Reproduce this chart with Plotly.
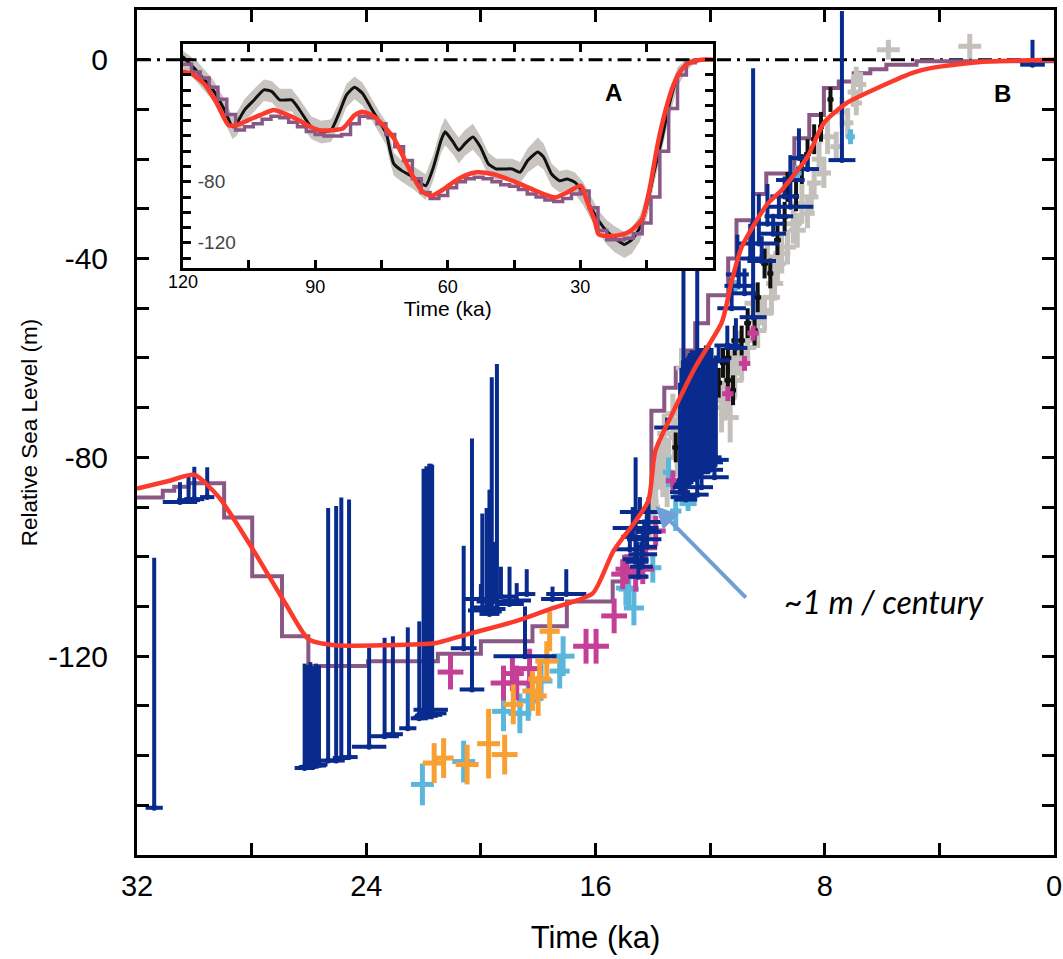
import plotly.graph_objects as go

# ---------------- Panel B (main) ----------------
red_age = [32.0, 30.86, 30.0, 29.13, 27.99, 26.81, 26.01, 25.08, 23.35, 21.62, 20.48, 18.75, 17.47, 16.09,
           15.39, 14.6, 14.15, 13.91, 13.32, 12.52, 11.59, 11.24, 10.9, 10.0, 9.5, 8.61, 8.03, 7.23, 6.05,
           4.91, 4.22, 2.49, 0.0]
red_rsl = [-86.3, -84.7, -83.5, -88.1, -98.2, -109.5, -116.6, -117.8, -117.8, -117.4, -115.6, -112.9, -110.3,
           -107.3, -99.0, -92.8, -88.7, -78.7, -71.2, -61.9, -52.8, -44.4, -37.7, -29.0, -26.2, -19.6, -12.7,
           -8.7, -5.4, -2.6, -1.6, -0.4, 0.0]

purple_age = [32.0, 31.1, 30.7, 30.2, 28.96, 27.98, 26.94, 26.02, 23.94, 21.5, 20.0, 18.2, 17.0, 15.4, 15.0,
              14.6, 14.05, 13.6, 13.2, 12.8, 12.52, 12.07, 11.37, 11.08, 10.5, 10.04, 9.06, 8.54, 8.03, 7.51,
              6.99, 6.41, 5.85, 4.8, 0.0]
purple_rsl = [-88.1, -86.7, -85.9, -85.2, -92.1, -103.9, -116.0, -122.0, -121.0, -119.5, -117.0, -114.0,
              -109.0, -105.0, -100.0, -94.5, -70.6, -66.0, -62.0, -58.5, -53.0, -47.4, -40.0, -32.3, -27.0,
              -22.9, -15.8, -11.1, -5.7, -4.4, -2.7, -1.9, -1.0, -0.3, 0.0]

zero_age = [32.0, 0.0]
zero_rsl = [0.0, 0.0]

# dark-blue limiting data: age, lower RSL, upward extent, age uncertainty
blue_age = [31.4, 30.5, 30.2, 30.0, 29.55,
            26.15, 26.05, 25.95, 25.85, 25.75, 25.65, 25.33, 25.05, 24.87, 24.6,
            23.9, 23.36, 23.07, 22.55, 22.15, 22.0, 21.9, 21.8, 21.7, 21.75,
            20.6, 20.31, 19.95, 19.8, 19.7, 19.62, 19.44, 19.55, 20.0, 19.3, 19.0, 18.75, 18.4, 18.46,
            17.02, 17.5,
            14.6, 14.8, 14.6, 14.4, 14.3, 14.5, 14.2, 14.45, 14.2, 14.7, 14.35, 14.15, 14.55,
            12.93, 12.45, 13.05, 12.95, 12.8, 12.7, 12.6, 12.5, 12.4, 12.3, 12.2, 12.1, 12.0, 11.9, 11.85,
            13.0, 12.88, 12.75, 12.65, 12.55, 12.35, 12.25, 12.15, 12.05, 11.95, 11.8, 12.85, 12.3,
            13.5, 11.4, 11.1, 11.05, 10.3, 10.0, 9.2, 9.2, 8.9, 10.5, 7.4, 0.75, 11.0, 10.6, 9.6, 11.7,
            10.8, 10.2, 9.8, 9.4, 8.6, 11.25]
blue_rsl = [-150.5, -89.0, -88.6, -88.4, -88.0,
            -142.5, -142.3, -142.2, -142.0, -142.0, -141.8, -141.0, -141.0, -140.5, -140.3,
            -138.2, -136.1, -135.7, -134.5, -132.5, -132.3, -132.0, -131.8, -131.5, -130.8,
            -118.4, -126.7, -110.8, -110.2, -111.5, -111.0, -110.5, -109.0, -108.5, -108.0, -109.5, -108.8,
            -107.5, -120.0,
            -107.5, -108.5,
            -94.2, -98.5, -100.5, -102.0, -96.5, -104.0, -98.0, -91.0, -93.0, -96.0, -99.5, -95.0, -101.0,
            -88.0, -87.5, -87.0, -85.5, -84.5, -84.0, -83.5, -83.0, -82.5, -82.3, -82.0, -81.5, -82.5, -80.0,
            -84.0,
            -86.0, -85.0, -84.5, -84.0, -83.5, -83.0, -82.5, -82.0, -81.5, -81.0, -80.5, -88.5, -86.0,
            -74.0, -57.5, -58.0, -43.2, -37.0, -33.0, -29.6, -24.2, -19.8, -51.8, -20.2, -1.0, -45.5, -40.0,
            -31.5, -60.5,
            -47.0, -40.5, -35.0, -27.5, -22.0, -50.0]
blue_up = [50.3, 4.0, 5.0, 6.5, 6.0,
           21.0, 20.5, 21.0, 20.0, 20.5, 20.0, 50.8, 51.2, 52.4, 51.8,
           19.9, 19.8, 19.7, 20.3, 19.5, 50.0, 50.2, 50.5, 50.0, 49.5,
           20.6, 50.5, 19.5, 20.0, 25.0, 47.1, 49.3, 12.0, 3.0, 6.0, 7.5, 3.5, 5.0, 10.0,
           5.0, 2.5,
           14.2, 4.0, 5.0, 5.0, 4.0, 3.0, 6.0, 3.0, 4.0, 6.0, 5.0, 7.0, 4.0,
           52.3, 51.5, 22.0, 25.0, 24.0, 25.0, 24.0, 24.0, 24.0, 24.0, 24.0, 23.0, 22.0, 20.0, 2.0,
           24.0, 25.0, 25.0, 25.5, 25.0, 25.0, 24.5, 24.5, 24.0, 23.0, 21.0, 18.0, 26.0,
           2.0, 4.0, 6.0, 8.0, 10.0, 8.0, 6.0, 5.0, 6.0, 50.1, 30.0, 5.0, 5.0, 7.0, 4.0, 3.0,
           5.0, 5.0, 4.0, 4.0, 3.0, 6.0]
blue_age_err = [0.3, 0.6, 0.4, 0.35, 0.25,
                0.35, 0.3, 0.3, 0.3, 0.35, 0.3, 0.3, 0.3, 0.3, 0.3,
                0.6, 0.5, 0.35, 0.3, 0.3, 0.35, 0.4, 0.45, 0.5, 0.6,
                0.45, 0.43, 0.5, 0.45, 0.35, 0.35, 0.3, 0.6, 0.6, 0.5, 0.5, 0.5, 0.3, 1.1,
                0.7, 0.4,
                0.8, 0.5, 0.45, 0.4, 0.6, 0.35, 0.35, 0.7, 0.5, 0.4, 0.5, 0.45, 0.4,
                0.45, 0.4, 0.35, 0.3, 0.35, 0.3, 0.35, 0.3, 0.35, 0.3, 0.4, 0.35, 0.45, 0.3, 0.5,
                0.3, 0.3, 0.35, 0.3, 0.3, 0.35, 0.3, 0.35, 0.3, 0.4, 0.45, 0.4, 0.4,
                0.45, 0.45, 0.4, 0.4, 0.7, 0.6, 0.8, 0.5, 0.3, 0.47, 0.47, 0.43, 0.5, 0.45, 0.5, 0.4,
                0.45, 0.5, 0.45, 0.5, 0.4, 0.5]

magenta_age = [21.06, 19.21, 18.75, 18.3, 18.9, 16.33, 15.98, 15.35, 15.05, 14.9, 14.6, 14.35, 14.25, 13.9,
               13.3, 11.38, 10.8, 10.5]
magenta_rsl = [-123.2, -125.4, -125.4, -122.5, -123.5, -118.0, -118.0, -111.9, -103.5, -102.5, -104.0,
               -102.5, -98.2, -94.8, -84.7, -67.2, -61.1, -55.0]
magenta_age_err = [0.45, 0.45, 0.45, 0.45, 0.4, 0.45, 0.45, 0.45, 0.4, 0.4, 0.4, 0.4, 0.4, 0.35, 0.25, 0.2,
                   0.2, 0.2]
magenta_rsl_err = [3.5, 3.5, 3.5, 4.0, 3.5, 3.5, 3.5, 3.5, 3.0, 3.0, 3.0, 3.0, 3.0, 3.0, 2.0, 1.5, 1.5, 1.5]

cyan_age = [22.04, 20.6, 19.21, 18.64, 18.35, 17.9, 17.13, 17.25, 14.94, 14.84, 14.66, 14.0, 13.45, 13.2,
            12.77, 11.14, 8.96, 7.1]
cyan_rsl = [-145.8, -141.2, -131.1, -131.5, -129.0, -125.0, -120.0, -123.0, -106.3, -106.5, -110.3, -102.2,
            -83.0, -90.8, -89.3, -45.8, -22.8, -15.5]
cyan_age_err = [0.4, 0.4, 0.4, 0.4, 0.4, 0.4, 0.4, 0.35, 0.35, 0.35, 0.35, 0.3, 0.2, 0.2, 0.3, 0.2, 0.15, 0.15]
cyan_rsl_err = [4.2, 4.2, 4.0, 4.0, 4.0, 4.0, 4.0, 3.5, 3.5, 3.5, 3.5, 3.0, 3.0, 4.0, 1.5, 1.5, 1.5, 1.5]

orange_age = [21.63, 21.3, 20.48, 19.73, 19.17, 18.87, 18.2, 18.0, 17.95, 17.7, 17.6]
orange_rsl = [-141.5, -140.5, -141.8, -137.6, -139.8, -129.7, -127.0, -128.0, -124.6, -121.0, -115.0]
orange_age_err = [0.4, 0.35, 0.4, 0.4, 0.45, 0.35, 0.35, 0.3, 0.4, 0.4, 0.35]
orange_rsl_err = [4.0, 4.0, 4.0, 7.0, 4.0, 4.0, 4.0, 4.0, 4.0, 4.0, 4.0]

grey_age = [5.78, 2.94, 6.9, 6.75, 6.9, 7.2, 7.6, 8.03, 8.37, 8.47, 8.6, 8.96, 9.3, 9.65, 9.75, 9.86, 10.1,
            10.34, 10.69, 10.9, 11.14, 11.38, 11.5, 12.0, 13.0, 13.3, 13.6, 13.7, 13.8, 13.9, 14.0, 13.5,
            13.15, 10.2, 10.7, 11.14, 10.0,
            7.0, 7.4, 7.9, 8.2, 8.8, 9.1, 9.5, 10.5, 11.0, 11.25, 11.6, 11.45, 11.3, 13.25, 13.45, 13.65,
            13.95, 14.1, 13.1]
grey_rsl = [2.0, 2.7, -3.4, -5.0, -8.7, -12.7, -17.5, -22.8, -24.8, -27.6, -30.9, -34.3, -37.7, -41.0, -45.0,
            -47.8, -51.0, -54.5, -57.9, -61.1, -64.5, -68.0, -68.6, -66.0, -62.0, -71.2, -75.2, -79.3, -82.0,
            -86.0, -89.0, -85.0, -80.0, -50.4, -56.5, -62.5, -39.7,
            -6.5, -10.5, -15.5, -20.0, -29.0, -33.0, -39.0, -49.0, -59.0, -63.0, -70.0, -66.0, -72.0, -76.0,
            -80.0, -84.0, -90.0, -92.0, -74.0]
grey_age_err = [0.4, 0.4, 0.15, 0.2, 0.2, 0.2, 0.2, 0.25, 0.25, 0.25, 0.25, 0.3, 0.3, 0.3, 0.3, 0.3, 0.3, 0.3,
                0.3, 0.3, 0.3, 0.3, 0.3, 0.25, 0.2, 0.25, 0.25, 0.25, 0.2, 0.2, 0.2, 0.2, 0.2, 0.3, 0.3, 0.3,
                0.3,
                0.2, 0.2, 0.25, 0.25, 0.3, 0.3, 0.3, 0.3, 0.3, 0.3, 0.25, 0.25, 0.3, 0.2, 0.2, 0.2, 0.2, 0.2,
                0.2]
grey_rsl_err = [2.0, 2.5, 2.0, 2.5, 2.5, 3.0, 3.0, 3.0, 3.0, 3.0, 3.0, 3.5, 3.5, 3.5, 3.5, 3.5, 3.5, 3.5, 3.5,
                3.5, 3.5, 3.5, 4.0, 4.0, 4.0, 4.0, 4.0, 4.0, 4.0, 4.0, 4.0, 5.0, 4.0, 3.0, 3.0, 3.0, 3.0,
                3.0, 3.0, 3.5, 3.5, 4.0, 4.0, 4.0, 4.0, 4.5, 4.5, 5.0, 4.5, 5.0, 4.0, 4.0, 4.0, 4.5, 4.5,
                4.0]

black_age = [7.8, 8.13, 8.37, 8.6, 9.3, 9.4, 9.65, 10.1, 10.34, 10.69, 11.14, 11.38, 10.45, 10.9, 11.38, 13.2,
             13.0, 11.7, 9.0, 8.8, 9.9, 11.55, 11.2]
black_rsl = [-8.0, -13.5, -16.0, -19.0, -25.6, -31.6, -36.3, -41.0, -47.8, -53.0, -56.5, -64.5, -54.5, -56.5,
             -60.0, -78.0, -72.0, -65.0, -27.5, -22.0, -43.0, -61.0, -66.5]
black_age_err = [0.1, 0.1, 0.1, 0.12, 0.12, 0.12, 0.12, 0.12, 0.12, 0.12, 0.12, 0.12, 0.12, 0.12, 0.12, 0.12,
                 0.12, 0.12, 0.1, 0.1, 0.1, 0.1, 0.1]
black_rsl_err = [2.5, 3.0, 3.0, 3.0, 3.0, 3.0, 3.0, 3.0, 3.0, 3.0, 3.0, 3.0, 3.0, 3.0, 3.0, 3.0, 3.0, 3.0,
                 3.0, 3.0, 3.0, 3.0, 3.0]

x_ticks_main = [32, 24, 16, 8, 0]
x_text_main = ["32", "24", "16", "8", "0"]
y_ticks_main = [0, -40, -80, -120]
y_text_main = ["0", "-40", "-80", "-120"]

# ---------------- Panel A (inset) ----------------
ins_black_age = [120, 116.7, 113.1, 110.5, 108.7, 107.8, 106.0, 103.8, 101.6, 99.8, 98.0, 95.3, 93.5, 90.9,
                 88.6, 86.4, 84.6, 82.9, 81.1, 79.3, 77.5, 75.7, 73.9, 73.05, 72.2, 70.4, 67.7, 65.0, 63.25,
                 61.5, 60.6, 58.8, 57.5, 56.1, 54.3, 52.6, 50.8, 49.0, 47.2, 45.4, 43.65, 41.9, 39.6, 38.3,
                 36.5, 34.7, 33.0, 31.2, 29.4, 27.6, 25.8, 24.05, 22.3, 20.0, 18.3, 16.5, 14.7, 13.4, 11.6,
                 9.8, 8.0, 6.2, 4.45, 2.67, 0]
ins_black_rsl = [2.2, -7.7, -19.8, -33.0, -44.0, -41.8, -33.0, -26.4, -19.8, -20.9, -26.4, -26.4, -33.0,
                 -44.0, -47.3, -46.2, -35.2, -23.1, -18.1, -22.0, -30.8, -39.6, -48.4, -59.4, -68.3, -72.7,
                 -77.1, -82.6, -70.5, -52.8, -47.3, -53.9, -59.4, -55.0, -50.6, -57.2, -68.3, -71.6, -71.6,
                 -71.6, -73.8, -66.1, -60.5, -63.9, -74.9, -79.3, -78.2, -80.4, -87.0, -96.9, -105.7, -112.3,
                 -116.7, -121.1, -117.8, -110.1, -92.5, -74.9, -52.8, -28.6, -11.0, -3.3, -0.7, 0.0, 0.0]
ins_band_upper = [6, -1, -13, -26, -37, -35, -26, -19, -13, -14, -19, -19, -26, -37, -40, -39, -28, -16, -11,
                  -15, -24, -33, -41, -52, -61, -66, -70, -75, -62, -44, -38, -46, -51, -46, -42, -50, -61,
                  -65, -65, -65, -67, -58, -51, -55, -68, -73, -72, -74, -80, -90, -99, -105, -109, -113,
                  -110, -102, -85, -67, -45, -21, -5, 0, 1, 1, 0.5]
ins_band_lower = [-5, -15, -27, -41, -52, -50, -41, -34, -27, -28, -34, -34, -41, -52, -55, -54, -43, -31,
                  -26, -30, -38, -47, -56, -67, -76, -80, -85, -92, -79, -61, -56, -62, -68, -63, -59, -65,
                  -76, -79, -79, -79, -81, -74, -69, -72, -83, -87, -86, -88, -95, -105, -114, -121, -126,
                  -130, -127, -119, -101, -83, -61, -37, -18, -8, -3, -1, -0.5]

ins_red_age = [120, 117.59, 114.92, 112.25, 109.58, 107.79, 105.12, 102.45, 99.33, 97.1, 94.43, 91.76, 89.09,
               86.41, 83.74, 81.07, 79.29, 76.61, 73.94, 72.16, 70.38, 68.15, 65.92, 63.7, 61.47, 58.79,
               56.12, 53.45, 49.89, 45.43, 40.98, 38.31, 35.63, 32.96, 29.84, 28.51, 26.73, 25.83, 23.16,
               20.49, 18.71, 16.04, 14.25, 12.47, 10.69, 8.91, 7.13, 5.35, 2.67, 0]
ins_red_rsl = [-7.7, -9.9, -16.5, -28.6, -42.9, -42.9, -39.6, -36.3, -33.0, -35.2, -38.5, -42.9, -46.2,
               -46.2, -45.1, -36.3, -34.1, -37.4, -45.1, -51.7, -61.7, -74.9, -85.9, -89.2, -85.9, -80.4,
               -76.0, -73.8, -74.9, -79.3, -84.8, -88.1, -90.3, -87.0, -82.6, -92.5, -105.7, -114.5, -115.6,
               -114.5, -112.3, -104.6, -83.7, -55.0, -33.0, -16.5, -6.6, -2.2, 0.0, 0.0]

ins_purple_age = [120, 118, 116, 114, 112, 110, 108, 106, 104, 102, 100, 98, 96, 94, 92, 90, 88, 86, 84, 82,
                  80, 78, 76, 74, 72, 70, 68, 66, 64, 62, 60, 58, 56, 54, 52, 50, 48, 46, 44, 42, 40, 38, 36,
                  34, 32, 30, 28, 26, 24, 22, 20, 18, 16, 14, 12, 10, 8, 6, 4, 0]
ins_purple_rsl = [-3, -8, -12, -18, -26, -36, -46, -44, -42, -39, -37, -38, -41, -44, -47, -49, -50, -50, -49,
                  -42, -37, -38, -42, -49, -57, -66, -78, -87, -91, -89, -84, -80, -78, -77, -78, -80, -82,
                  -83, -85, -88, -90, -92, -93, -91, -88, -86, -97, -112, -118, -118, -117, -114, -107, -90,
                  -60, -32, -10, -2, 0, 0]

ins_zero_age = [120, 0]
ins_zero_rsl = [0, 0]
x_ticks_inset = [120, 90, 60, 30]
y_ticks_inset = [-80, -120]
y_text_inset = ["-80", "-120"]

# ---------------- colours / styles ----------------
RED = "#fb3a2b"
PURPLE = "#8a5885"
NAVY = "#0a2b8e"
MAGENTA = "#c63f97"
CYAN = "#5bb6dc"
ORANGE = "#f8a033"
GREY = "#c4c1bc"
BLACK = "#111111"
FONT = "Liberation Sans, Arial, Helvetica, sans-serif"

fig = go.Figure()


def crosses(age, rsl, xe, ye, color, th):
    fig.add_trace(go.Scatter(
        x=age, y=rsl, mode="markers", marker=dict(size=0, color=color),
        error_x=dict(type="data", array=xe, width=0, thickness=th, color=color),
        error_y=dict(type="data", array=ye, width=0, thickness=th, color=color),
        xaxis="x", yaxis="y", showlegend=False, hoverinfo="skip"))


# main panel
fig.add_trace(go.Scatter(x=zero_age, y=zero_rsl, mode="lines",
                         line=dict(color="black", width=3, dash="14px,6px,3px,6px"),
                         xaxis="x", yaxis="y", showlegend=False, hoverinfo="skip"))
fig.add_trace(go.Scatter(x=purple_age, y=purple_rsl, mode="lines", line=dict(color=PURPLE, width=4, shape="hv"),
                         xaxis="x", yaxis="y", showlegend=False, hoverinfo="skip"))
crosses(grey_age, grey_rsl, grey_age_err, grey_rsl_err, GREY, 5)
crosses(black_age, black_rsl, black_age_err, black_rsl_err, BLACK, 4)
crosses(cyan_age, cyan_rsl, cyan_age_err, cyan_rsl_err, CYAN, 5)
crosses(magenta_age, magenta_rsl, magenta_age_err, magenta_rsl_err, MAGENTA, 5)
crosses(orange_age, orange_rsl, orange_age_err, orange_rsl_err, ORANGE, 5)
fig.add_trace(go.Scatter(
    x=blue_age, y=blue_rsl, mode="markers", marker=dict(size=0, color=NAVY),
    error_x=dict(type="data", array=blue_age_err, width=0, thickness=4, color=NAVY),
    error_y=dict(type="data", symmetric=False, array=blue_up, arrayminus=[0] * len(blue_up),
                 width=0, thickness=4, color=NAVY),
    xaxis="x", yaxis="y", showlegend=False, hoverinfo="skip"))
fig.add_trace(go.Scatter(x=red_age, y=red_rsl, mode="lines", line=dict(color=RED, width=4.5, shape="spline",
                                                                       smoothing=0.6),
                         xaxis="x", yaxis="y", showlegend=False, hoverinfo="skip"))

# inset panel
fig.add_trace(go.Scatter(x=ins_black_age, y=ins_band_lower, mode="lines", line=dict(width=0, color=GREY),
                         xaxis="x2", yaxis="y2", showlegend=False, hoverinfo="skip"))
fig.add_trace(go.Scatter(x=ins_black_age, y=ins_band_upper, mode="lines", line=dict(width=0, color=GREY),
                         fill="tonexty", fillcolor="#c8c5c0",
                         xaxis="x2", yaxis="y2", showlegend=False, hoverinfo="skip"))
fig.add_trace(go.Scatter(x=ins_zero_age, y=ins_zero_rsl, mode="lines",
                         line=dict(color="black", width=3, dash="14px,6px,3px,6px"),
                         xaxis="x2", yaxis="y2", showlegend=False, hoverinfo="skip"))
fig.add_trace(go.Scatter(x=ins_black_age, y=ins_black_rsl, mode="lines",
                         line=dict(color=BLACK, width=3, shape="spline", smoothing=0.5),
                         xaxis="x2", yaxis="y2", showlegend=False, hoverinfo="skip"))
fig.add_trace(go.Scatter(x=ins_purple_age, y=ins_purple_rsl, mode="lines",
                         line=dict(color=PURPLE, width=3.5, shape="hv"),
                         xaxis="x2", yaxis="y2", showlegend=False, hoverinfo="skip"))
fig.add_trace(go.Scatter(x=ins_red_age, y=ins_red_rsl, mode="lines",
                         line=dict(color=RED, width=4.5, shape="spline", smoothing=0.6),
                         xaxis="x2", yaxis="y2", showlegend=False, hoverinfo="skip"))

tick_common = dict(ticks="inside", tickcolor="black", showline=True, linecolor="black", showgrid=False,
                   zeroline=False, mirror="ticks")

fig.update_layout(
    width=1063, height=959,
    margin=dict(l=137, r=1, t=10, b=104),
    paper_bgcolor="white", plot_bgcolor="white",
    font=dict(family=FONT, color="black"),
    xaxis=dict(domain=[0, 1], anchor="y", range=[32, 0], tickvals=x_ticks_main, ticktext=x_text_main,
               ticklen=12, tickwidth=3, linewidth=3, tickfont=dict(size=29),
               ticklabelstandoff=3, ticklabeloverflow="allow",
               minor=dict(ticks="inside", dtick=4, tick0=0, ticklen=12, tickwidth=3, tickcolor="black"),
               title=dict(text="Time (ka)", font=dict(size=31), standoff=26), **tick_common),
    yaxis=dict(domain=[0, 1], anchor="x", range=[-160, 10], tickvals=y_ticks_main, ticktext=y_text_main,
               ticklen=12, tickwidth=3, linewidth=3, tickfont=dict(size=30),
               ticklabelstandoff=20,
               minor=dict(ticks="inside", dtick=10, tick0=0, ticklen=12, tickwidth=3, tickcolor="black"),
               title=dict(text="Relative Sea Level (m)", font=dict(size=22.5), standoff=5), **tick_common),
    xaxis2=dict(domain=[0.0497, 0.628], anchor="y2", range=[120, 0], tickvals=x_ticks_inset,
                ticklen=8, tickwidth=2.5, linewidth=3, tickfont=dict(size=18), ticklabeloverflow="allow",
                minor=dict(ticks="inside", dtick=15, tick0=0, ticklen=8, tickwidth=2.5, tickcolor="black"),
                title=dict(text="Time (ka)", font=dict(size=21), standoff=6), **tick_common),
    yaxis2=dict(domain=[0.6947, 0.9598], anchor="x2", range=[-136.5, 10.3], tickvals=y_ticks_inset,
                ticktext=y_text_inset, ticklabelstandoff=8,
                ticklen=8, tickwidth=2.5, linewidth=3, tickfont=dict(size=19), ticklabelposition="inside",
                minor=dict(ticks="inside", dtick=10, tick0=0, ticklen=8, tickwidth=2.5, tickcolor="black"),
                **tick_common),
    annotations=[
        # the 120 tick label of the inset (plotly hides it next to inside y labels)
        dict(x=120, y=0.6947, xref="x2", yref="paper", yshift=-2, text="120",
             showarrow=False, yanchor="top", font=dict(size=18, family=FONT)),
        dict(x=22.6, y=-21.8, xref="x2", yref="y2", text="<b>A</b>", showarrow=False,
             font=dict(size=24, family=FONT)),
        dict(x=1.8, y=-6.7, xref="x", yref="y", text="<b>B</b>", showarrow=False,
             font=dict(size=24, family=FONT)),
        dict(x=13.91, y=-89.8, xref="x", yref="y", text="", showarrow=True, ax=92, ay=93,
             arrowcolor="#6f9fd4", arrowwidth=4, arrowhead=2, arrowsize=1.1),
        dict(x=5.95, y=-109.0, xref="x", yref="y", text="<i>~1 m / century</i>", showarrow=False,
             font=dict(size=32, family="Lato, Open Sans, sans-serif", color="black")),
    ],
)

fig.write_html("out.html")
